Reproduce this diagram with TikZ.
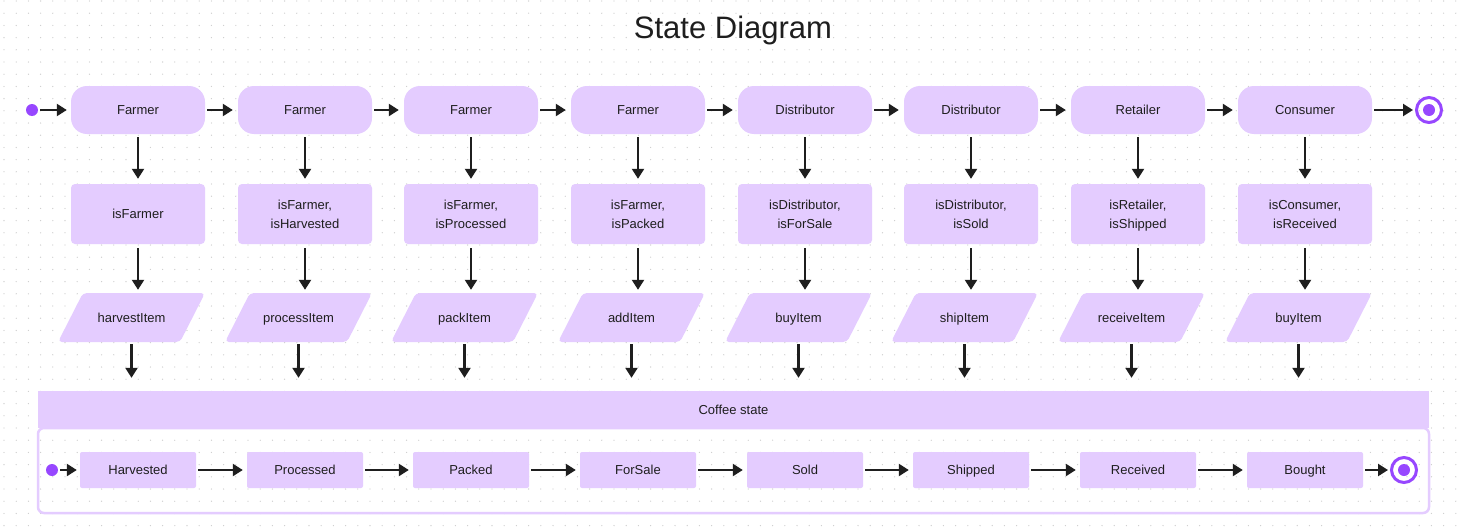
\documentclass[tikz,border=0pt]{standalone}
\usepackage{fontspec}
\setmainfont{Liberation Sans}
\usetikzlibrary{arrows.meta,shapes.geometric}
\definecolor{lilac}{HTML}{E4CCFF}
\definecolor{dotviolet}{HTML}{9747FF}
\definecolor{ink}{HTML}{1E1E1E}
\definecolor{griddot}{HTML}{CCCCCC}
\begin{document}
\begin{tikzpicture}%
	[x=1pt, y=-1pt,
	edge/.style={draw=ink, line width=2.3pt, -{Triangle[length=10pt,width=12pt]}},
	actor/.style={fill=lilac, rounded corners=16pt, minimum width=134pt, minimum height=48pt, inner sep=0pt, text height=9.3pt, text depth=0pt, text=ink, font=\fontsize{13}{19}\selectfont},
	guard/.style={fill=lilac, rounded corners=4pt, minimum width=134pt, minimum height=60pt, inner sep=0pt, text depth=0pt, align=center, text=ink, font=\fontsize{13}{19}\selectfont},
	event/.style={trapezium, trapezium left angle=63, trapezium right angle=117, trapezium stretches body=true, fill=lilac, rounded corners=4pt, minimum width=147pt, text height=9.3pt, text depth=0pt, inner xsep=0pt, inner ysep=19.85pt, text=ink, font=\fontsize{13}{19}\selectfont},
	phase/.style={fill=lilac, rounded corners=2pt, minimum width=116pt, minimum height=36pt, inner sep=0pt, text height=9.3pt, text depth=0pt, text=ink, font=\fontsize{13}{19}\selectfont},
	header/.style={fill=lilac, minimum width=1391pt, minimum height=37pt, inner sep=0pt, text height=9.3pt, text depth=0pt, text=ink, font=\fontsize{13}{19}\selectfont},
	frame/.style={draw=lilac, line width=2.5pt, rounded corners=6pt},
	initial/.style={circle, fill=dotviolet, minimum size=12pt, inner sep=0pt},
	final/.style={circle, draw=dotviolet, line width=3pt, minimum size=25pt, inner sep=0pt,
		path picture={\fill[dotviolet] (path picture bounding box.center) circle (6pt);}},
	title/.style={text=ink, font=\fontsize{31}{36}\selectfont, inner sep=0pt}]
	\useasboundingbox (0,0) rectangle (1459,530);
	\fill[white] (0,0) rectangle (1459,530);
	% dotted canvas
	\foreach \i in {0,...,119}
		\foreach \j in {0,...,43}
			\fill[griddot] (4+12.2*\i, 1+12.2*\j) circle (0.65pt);

	\node[title, anchor=base] (ttl) at (733,38) {State Diagram};

	% actors
	\node[initial] (s0) at (32,110) {};
	\node[actor] (a1) at (138,110)  {Farmer};
	\node[actor] (a2) at (305,110)  {Farmer};
	\node[actor] (a3) at (471,110)  {Farmer};
	\node[actor] (a4) at (638,110)  {Farmer};
	\node[actor] (a5) at (805,110)  {Distributor};
	\node[actor] (a6) at (971,110)  {Distributor};
	\node[actor] (a7) at (1138,110) {Retailer};
	\node[actor] (a8) at (1305,110) {Consumer};
	\node[final] (z0) at (1429,110) {};

	% guards
	\node[guard] (g1) at (138,214)  {isFarmer};
	\node[guard] (g2) at (305,214)  {isFarmer,\\isHarvested};
	\node[guard] (g3) at (471,214)  {isFarmer,\\isProcessed};
	\node[guard] (g4) at (638,214)  {isFarmer,\\isPacked};
	\node[guard] (g5) at (805,214)  {isDistributor,\\isForSale};
	\node[guard] (g6) at (971,214)  {isDistributor,\\isSold};
	\node[guard] (g7) at (1138,214) {isRetailer,\\isShipped};
	\node[guard] (g8) at (1305,214) {isConsumer,\\isReceived};

	% events
	\node[event] (e1) at (131.5,317.5)  {harvestItem};
	\node[event] (e2) at (298.5,317.5)  {processItem};
	\node[event] (e3) at (464.5,317.5)  {packItem};
	\node[event] (e4) at (631.5,317.5)  {addItem};
	\node[event] (e5) at (798.5,317.5)  {buyItem};
	\node[event] (e6) at (964.5,317.5)  {shipItem};
	\node[event] (e7) at (1131.5,317.5) {receiveItem};
	\node[event] (e8) at (1298.5,317.5) {buyItem};

	% coffee state
	\draw[frame] (38,428) rectangle (1429,513);
	\node[header] (cs) at (733.5,409.5) {Coffee state};
	\node[initial] (s1) at (52,470) {};
	\node[phase] (p1) at (138,470)  {Harvested};
	\node[phase] (p2) at (305,470)  {Processed};
	\node[phase] (p3) at (471,470)  {Packed};
	\node[phase] (p4) at (638,470)  {ForSale};
	\node[phase] (p5) at (805,470)  {Sold};
	\node[phase] (p6) at (971,470)  {Shipped};
	\node[phase] (p7) at (1138,470) {Received};
	\node[phase] (p8) at (1305,470) {Bought};
	\node[final] (z1) at (1404,470) {};

	\draw[edge, shorten <=2pt, shorten >=4pt] (s0) -- (a1);
	\draw[edge, shorten <=2pt, shorten >=5pt] (a1) -- (a2);
	\draw[edge, shorten <=2pt, shorten >=5pt] (a2) -- (a3);
	\draw[edge, shorten <=2pt, shorten >=5pt] (a3) -- (a4);
	\draw[edge, shorten <=2pt, shorten >=5pt] (a4) -- (a5);
	\draw[edge, shorten <=2pt, shorten >=5pt] (a5) -- (a6);
	\draw[edge, shorten <=2pt, shorten >=5pt] (a6) -- (a7);
	\draw[edge, shorten <=2pt, shorten >=5pt] (a7) -- (a8);
	\draw[edge, shorten <=2pt, shorten >=2pt] (a8) -- (z0);

	\draw[edge, shorten <=3pt, shorten >=5pt] (a1) -- (g1);
	\draw[edge, shorten <=3pt, shorten >=5pt] (a2) -- (g2);
	\draw[edge, shorten <=3pt, shorten >=5pt] (a3) -- (g3);
	\draw[edge, shorten <=3pt, shorten >=5pt] (a4) -- (g4);
	\draw[edge, shorten <=3pt, shorten >=5pt] (a5) -- (g5);
	\draw[edge, shorten <=3pt, shorten >=5pt] (a6) -- (g6);
	\draw[edge, shorten <=3pt, shorten >=5pt] (a7) -- (g7);
	\draw[edge, shorten <=3pt, shorten >=5pt] (a8) -- (g8);

	\draw[edge, shorten <=4pt, shorten >=3pt] (g1.south) -- (g1.south |- e1.north);
	\draw[edge, shorten <=4pt, shorten >=3pt] (g2.south) -- (g2.south |- e2.north);
	\draw[edge, shorten <=4pt, shorten >=3pt] (g3.south) -- (g3.south |- e3.north);
	\draw[edge, shorten <=4pt, shorten >=3pt] (g4.south) -- (g4.south |- e4.north);
	\draw[edge, shorten <=4pt, shorten >=3pt] (g5.south) -- (g5.south |- e5.north);
	\draw[edge, shorten <=4pt, shorten >=3pt] (g6.south) -- (g6.south |- e6.north);
	\draw[edge, shorten <=4pt, shorten >=3pt] (g7.south) -- (g7.south |- e7.north);
	\draw[edge, shorten <=4pt, shorten >=3pt] (g8.south) -- (g8.south |- e8.north);

	\draw[edge, shorten <=2pt, shorten >=13pt] (e1.south) -- (e1.south |- cs.north);
	\draw[edge, shorten <=2pt, shorten >=13pt] (e2.south) -- (e2.south |- cs.north);
	\draw[edge, shorten <=2pt, shorten >=13pt] (e3.south) -- (e3.south |- cs.north);
	\draw[edge, shorten <=2pt, shorten >=13pt] (e4.south) -- (e4.south |- cs.north);
	\draw[edge, shorten <=2pt, shorten >=13pt] (e5.south) -- (e5.south |- cs.north);
	\draw[edge, shorten <=2pt, shorten >=13pt] (e6.south) -- (e6.south |- cs.north);
	\draw[edge, shorten <=2pt, shorten >=13pt] (e7.south) -- (e7.south |- cs.north);
	\draw[edge, shorten <=2pt, shorten >=13pt] (e8.south) -- (e8.south |- cs.north);

	\draw[edge, shorten <=2pt, shorten >=3pt] (s1) -- (p1);
	\draw[edge, shorten <=2pt, shorten >=4pt] (p1) -- (p2);
	\draw[edge, shorten <=2pt, shorten >=4pt] (p2) -- (p3);
	\draw[edge, shorten <=2pt, shorten >=4pt] (p3) -- (p4);
	\draw[edge, shorten <=2pt, shorten >=4pt] (p4) -- (p5);
	\draw[edge, shorten <=2pt, shorten >=4pt] (p5) -- (p6);
	\draw[edge, shorten <=2pt, shorten >=4pt] (p6) -- (p7);
	\draw[edge, shorten <=2pt, shorten >=4pt] (p7) -- (p8);
	\draw[edge, shorten <=2pt, shorten >=2pt] (p8) -- (z1);
\end{tikzpicture}
\end{document}
